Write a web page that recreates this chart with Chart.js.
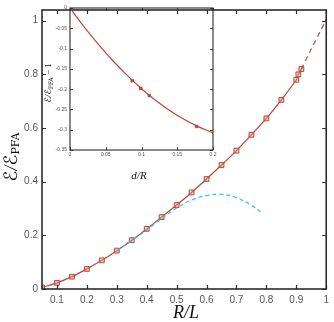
<!DOCTYPE html>
<html>
<head>
<meta charset="utf-8">
<script src="https://cdn.jsdelivr.net/npm/chart.js@4.4.1/dist/chart.umd.min.js"></script>
<style>
  html, body { margin: 0; padding: 0; background: #fff; }
  #wrap { position: relative; width: 334px; height: 322px; }
  #main { position: absolute; left: 0; top: 0; }
  #inset { position: absolute; left: 44px; top: 0; }
</style>
</head>
<body>
<div id="wrap">
  <canvas id="main" width="334" height="322"></canvas>
  <canvas id="inset" width="176" height="185"></canvas>
</div>
<script>
// main plot data: energy ratio vs R/L
const rlPoints = [0.05, 0.1, 0.15, 0.2, 0.25, 0.3, 0.35, 0.4, 0.45, 0.5, 0.55, 0.6, 0.65, 0.7, 0.75, 0.8, 0.85, 0.9, 0.907, 0.917];
const ratioPoints = [0.006, 0.023, 0.046, 0.075, 0.107, 0.143, 0.182, 0.224, 0.268, 0.313, 0.36, 0.41, 0.462, 0.516, 0.575, 0.636, 0.705, 0.78, 0.80, 0.82];

// dashed extrapolation of the red curve
const rlExtra = [0.917, 0.95, 0.98, 1.0];
const ratioExtra = [0.82, 0.895, 0.96, 1.005];

// cyan dashed approximation
const rlApprox = [0.3, 0.35, 0.4, 0.45, 0.5, 0.55, 0.6, 0.65, 0.7, 0.75, 0.78];
const ratioApprox = [0.142, 0.180, 0.220, 0.262, 0.302, 0.332, 0.348, 0.353, 0.340, 0.312, 0.287];

const mainXTicks = [0.1, 0.2, 0.3, 0.4, 0.5, 0.6, 0.7, 0.8, 0.9, 1];
const mainYTicks = [0, 0.2, 0.4, 0.6, 0.8, 1];

// inset data: E/E_PFA - 1 vs d/R
const dCurve = [0, 0.02, 0.04, 0.06, 0.08, 0.1, 0.12, 0.14, 0.16, 0.18, 0.2];
const devCurve = [0, -0.047, -0.090, -0.130, -0.166, -0.199, -0.228, -0.253, -0.275, -0.293, -0.308];
const dPoints = [0.087, 0.099, 0.111, 0.177];
const devPoints = [-0.179, -0.198, -0.216, -0.292];

const insetXTicks = [0, 0.05, 0.1, 0.15, 0.2];
const insetYTicks = [0, -0.05, -0.1, -0.15, -0.2, -0.25, -0.3, -0.35];

const RED = '#b8473b';
const CYAN = '#3cc4ea';
const AXIS = '#2b2b2b';

function pairs(xs, ys) {
  return xs.map((x, i) => ({ x: x, y: ys[i] }));
}

// box around the plot area with inward ticks on all four sides
const frameTicks = {
  id: 'frameTicks',
  afterDraw(chart, args, opts) {
    const { ctx, chartArea: a, scales } = chart;
    const L = opts.len;
    ctx.save();
    ctx.strokeStyle = AXIS;
    ctx.lineWidth = opts.tickWidth;
    ctx.beginPath();
    scales.x.ticks.forEach(t => {
      const px = Math.round(scales.x.getPixelForValue(t.value)) + 0.5;
      ctx.moveTo(px, a.bottom); ctx.lineTo(px, a.bottom - L);
      ctx.moveTo(px, a.top); ctx.lineTo(px, a.top + L);
    });
    scales.y.ticks.forEach(t => {
      const py = Math.round(scales.y.getPixelForValue(t.value)) + 0.5;
      ctx.moveTo(a.left, py); ctx.lineTo(a.left + L, py);
      ctx.moveTo(a.right, py); ctx.lineTo(a.right - L, py);
    });
    ctx.stroke();
    ctx.lineWidth = opts.width;
    ctx.strokeRect(a.left, a.top, a.right - a.left, a.bottom - a.top);
    ctx.restore();
  }
};

// draws "E/E_PFA" (plus optional suffix) rotated, centred at cx, cy
function drawRatioLabel(ctx, cx, cy, big, small, suffix) {
  const parts = [
    { t: '\u2130', f: big + 'px "DejaVu Sans"', dy: 0 },
    { t: '/', f: 'italic ' + big + 'px "Liberation Serif"', dy: 0 },
    { t: '\u2130', f: big + 'px "DejaVu Sans"', dy: 0 },
    { t: 'PFA', f: small + 'px "DejaVu Serif"', dy: small * 0.35 }
  ];
  if (suffix) parts.push({ t: suffix, f: big + 'px "Liberation Serif"', dy: 0 });
  ctx.save();
  ctx.translate(cx, cy);
  ctx.rotate(-Math.PI / 2);
  let w = 0;
  parts.forEach(p => { ctx.font = p.f; p.w = ctx.measureText(p.t).width; w += p.w; });
  let x = -w / 2;
  ctx.fillStyle = '#111';
  ctx.textBaseline = 'middle';
  parts.forEach(p => { ctx.font = p.f; ctx.fillText(p.t, x, p.dy); x += p.w; });
  ctx.restore();
}

const mainLabels = {
  id: 'mainLabels',
  afterDraw(chart) {
    const ctx = chart.ctx;
    ctx.save();
    ctx.fillStyle = '#111';
    ctx.font = 'italic 18px "Liberation Serif"';
    ctx.textAlign = 'center';
    ctx.textBaseline = 'middle';
    ctx.fillText('R/L', 186, 313);
    ctx.restore();
    drawRatioLabel(ctx, 12, 157, 18, 11, '');
  }
};

const insetLabels = {
  id: 'insetLabels',
  afterDraw(chart) {
    const ctx = chart.ctx;
    ctx.save();
    ctx.fillStyle = '#111';
    ctx.font = 'italic 11px "Liberation Serif"';
    ctx.textAlign = 'center';
    ctx.textBaseline = 'middle';
    ctx.fillText('d/R', 95, 176);
    ctx.restore();
    drawRatioLabel(ctx, 5, 83, 9, 6, ' \u2212 1');
  }
};

function fixTicks(list) {
  return scale => { scale.ticks = list.map(v => ({ value: v })); };
}

new Chart(document.getElementById('main'), {
  type: 'scatter',
  data: {
    datasets: [
      {
        type: 'line',
        data: pairs(rlApprox, ratioApprox),
        borderColor: CYAN,
        borderWidth: 1.3,
        borderDash: [4, 3],
        pointRadius: 0,
        tension: 0.4,
        fill: false
      },
      {
        type: 'line',
        data: pairs(rlExtra, ratioExtra),
        borderColor: RED,
        borderWidth: 1.2,
        borderDash: [5, 4],
        pointRadius: 0,
        tension: 0.3,
        fill: false
      },
      {
        type: 'line',
        data: pairs(rlPoints, ratioPoints),
        borderColor: RED,
        borderWidth: 1.2,
        pointStyle: 'rect',
        pointRadius: 3.4,
        pointBorderWidth: 1,
        pointBorderColor: RED,
        pointBackgroundColor: 'rgba(225,150,140,0.45)',
        tension: 0.3,
        fill: false
      }
    ]
  },
  options: {
    responsive: false,
    animation: false,
    layout: { padding: { left: 0, right: 5, top: 3, bottom: 0 } },
    plugins: {
      legend: { display: false },
      tooltip: { enabled: false },
      frameTicks: { len: 4, width: 1.6, tickWidth: 1.2 }
    },
    scales: {
      x: {
        type: 'linear',
        min: 0.05,
        max: 1,
        afterBuildTicks: fixTicks(mainXTicks),
        afterFit: s => { s.height = 33; },
        grid: { display: false, drawTicks: false },
        border: { display: false },
        ticks: {
          padding: 5,
          color: '#555',
          font: { family: 'Liberation Sans', size: 10 },
          callback: v => String(v)
        }
      },
      y: {
        type: 'linear',
        min: 0,
        max: 1.04,
        afterBuildTicks: fixTicks(mainYTicks),
        afterFit: s => { s.width = 42; },
        grid: { display: false, drawTicks: false },
        border: { display: false },
        ticks: {
          padding: 4,
          color: '#555',
          font: { family: 'Liberation Sans', size: 10 },
          callback: v => String(v)
        }
      }
    }
  },
  plugins: [frameTicks, mainLabels]
});

new Chart(document.getElementById('inset'), {
  type: 'scatter',
  data: {
    datasets: [
      {
        type: 'line',
        data: pairs(dCurve, devCurve),
        borderColor: RED,
        borderWidth: 1.2,
        pointRadius: 0,
        tension: 0.4,
        fill: false
      },
      {
        data: pairs(dPoints, devPoints),
        pointStyle: 'rect',
        pointRadius: 1.8,
        pointBorderWidth: 0.8,
        pointBorderColor: RED,
        pointBackgroundColor: RED
      }
    ]
  },
  options: {
    responsive: false,
    animation: false,
    layout: { padding: { left: 0, right: 7, top: 8, bottom: 0 } },
    plugins: {
      legend: { display: false },
      tooltip: { enabled: false },
      frameTicks: { len: 3, width: 1.1, tickWidth: 0.9 }
    },
    scales: {
      x: {
        type: 'linear',
        min: 0,
        max: 0.2,
        afterBuildTicks: fixTicks(insetXTicks),
        afterFit: s => { s.height = 35; },
        grid: { display: false, drawTicks: false },
        border: { display: false },
        ticks: {
          padding: 2,
          color: '#555',
          font: { family: 'Liberation Sans', size: 5 },
          callback: v => String(v)
        }
      },
      y: {
        type: 'linear',
        min: -0.35,
        max: 0,
        afterBuildTicks: fixTicks(insetYTicks),
        afterFit: s => { s.width = 26; },
        grid: { display: false, drawTicks: false },
        border: { display: false },
        ticks: {
          padding: 3,
          color: '#555',
          font: { family: 'Liberation Sans', size: 5 },
          callback: v => String(v)
        }
      }
    }
  },
  plugins: [frameTicks, insetLabels]
});
</script>
</body>
</html>
